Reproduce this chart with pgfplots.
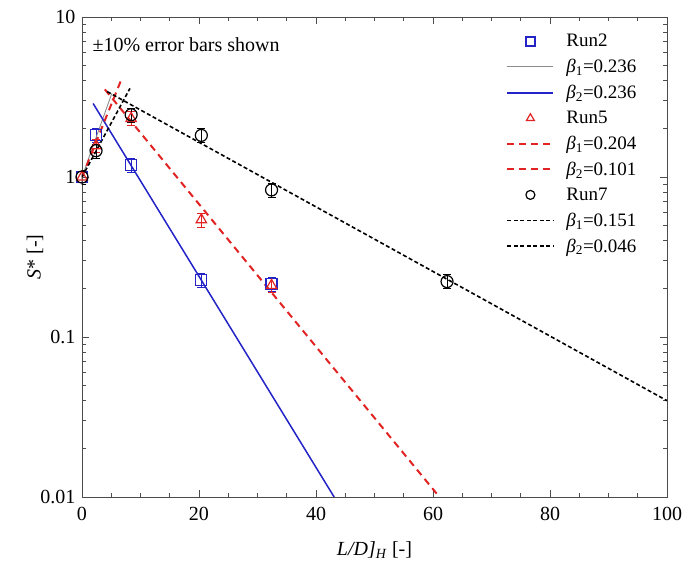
\documentclass[border=0pt]{standalone}
\usepackage{pgfplots}
\pgfplotsset{compat=1.18}
\usepackage{fontspec}
\setmainfont{Liberation Serif}

\definecolor{runblue}{RGB}{35,35,200}
\definecolor{runred}{RGB}{225,35,35}
\definecolor{fitgray}{RGB}{140,140,140}

\begin{document}
\begin{tikzpicture}
    \begin{axis}[
            scale only axis,
            width=585pt, height=480pt,
            ymode=log,
            xmin=0, xmax=100,
            ymin=0.01, ymax=10,
            xtick={0,20,40,60,80,100},
            minor x tick num=3,
            ytick={0.01,0.1,1,10},
            yticklabels={0.01,0.1,1,10},
            tick align=inside,
            major tick length=7pt,
            minor tick length=4pt,
            axis line style={black!70, line width=0.9pt},
            tick style={black!70, line width=0.8pt},
            every tick label/.append style={font=\fontsize{20}{24}\selectfont},
            xticklabel style={yshift=-7pt},
            yticklabel style={xshift=-3pt},
            /pgf/number format/assume math mode=true,
            xlabel={\textit{L/D]}\textsubscript{\textit{H}} [-]},
            ylabel={\textit{S}* [-]},
            label style={font=\fontsize{20}{24}\selectfont},
            ylabel style={at={(rel axis cs:0,0.5)}, anchor=center, yshift=47pt},
            xlabel style={at={(rel axis cs:0.5,0)}, anchor=center, yshift=-53pt},
            legend style={at={(rel axis cs:0.72,0.9725)}, anchor=north west,
                draw=none, fill=none, font=\fontsize{19}{22}\selectfont,
                row sep=7pt, column sep=10pt},
            legend cell align=left,
            legend image code/.code={\draw[mark repeat=2,mark phase=2,#1] plot coordinates {(0pt,0pt) (23pt,0pt) (46pt,0pt)};},
            legend image post style={mark size=4.5pt},
            error bars/error bar style={line width=1pt},
            error bars/error mark options={rotate=90, mark size=4pt, line width=1pt},
        ]

        % Run2
        \addplot[only marks, mark=square, mark size=5.5pt, runblue, line width=1.2pt,
            error bars/.cd, y dir=both, y fixed relative=0.1]
            coordinates {(0,1) (2.4,1.83) (8.4,1.19) (20.4,0.228) (32.4,0.215)};
        \addlegendentry{Run2}
        \addplot[fitgray, line width=0.9pt] coordinates {(0,1) (5.1,3.33)};
        \addlegendentry{\textit{β}\textsubscript{1}=0.236}
        \addplot[runblue, line width=1.5pt] coordinates {(1.9,2.88) (43.1,0.01)};
        \addlegendentry{\textit{β}\textsubscript{2}=0.236}

        % Run5
        \addplot[only marks, mark=triangle, mark size=6pt, runred, line width=1.2pt,
            error bars/.cd, y dir=both, y fixed relative=0.1]
            coordinates {(0,1) (2.4,1.57) (8.4,2.32) (20.4,0.54) (32.4,0.21)};
        \addlegendentry{Run5}
        \addplot[runred, line width=2pt, dash pattern=on 7pt off 5pt] coordinates {(0,1) (6.8,4.13)};
        \addlegendentry{\textit{β}\textsubscript{1}=0.204}
        \addplot[runred, line width=2pt, dash pattern=on 7pt off 5pt] coordinates {(3.9,3.53) (61.1,0.01)};
        \addlegendentry{\textit{β}\textsubscript{2}=0.101}

        % Run7
        \addplot[only marks, mark=o, mark size=6pt, black, line width=1.2pt,
            error bars/.cd, y dir=both, y fixed relative=0.1]
            coordinates {(0,1) (2.4,1.46) (8.4,2.45) (20.4,1.82) (32.4,0.83) (62.4,0.222)};
        \addlegendentry{Run7}
        \addplot[black, line width=1.6pt, dash pattern=on 4pt off 2.5pt] coordinates {(0,1) (8.2,3.58)};
        \addlegendentry{\textit{β}\textsubscript{1}=0.151}
        \addplot[black, line width=1.6pt, dash pattern=on 4pt off 2.5pt] coordinates {(4.3,3.42) (100,0.040)};
        \addlegendentry{\textit{β}\textsubscript{2}=0.046}

        \node[anchor=west, font=\fontsize{20}{24}\selectfont] at (rel axis cs:0.012,0.942) {±10\% error bars shown};
    \end{axis}
    \pgfresetboundingbox
    \path[use as bounding box] (current axis.south west) ++(-82pt,-69pt) rectangle ([shift={(32pt,17pt)}]current axis.north east);
\end{tikzpicture}
\end{document}
